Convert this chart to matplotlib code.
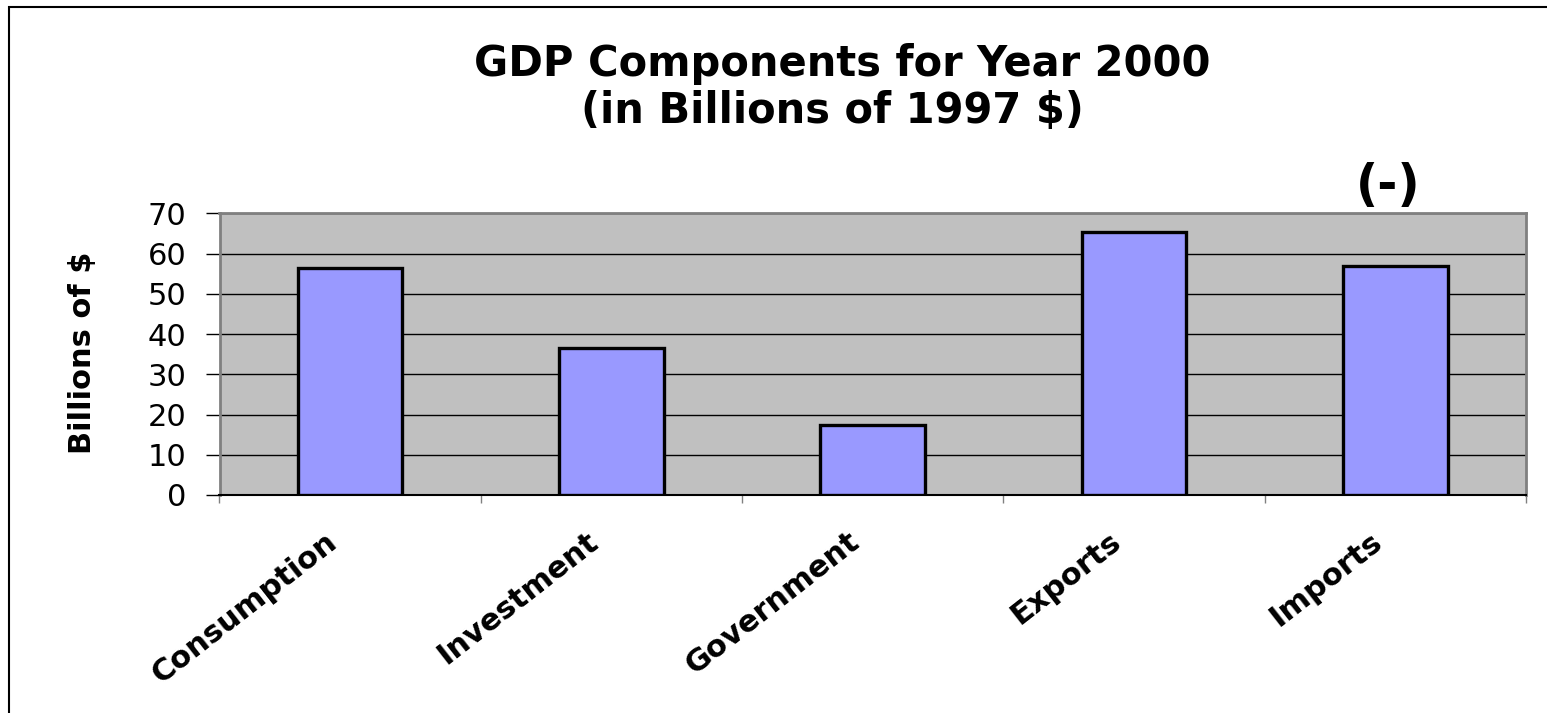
import matplotlib
matplotlib.use("Agg")
import matplotlib.pyplot as plt
from matplotlib.patches import Rectangle
from matplotlib.transforms import ScaledTranslation

# GDP components, billions of 1997 dollars
categories = ["Consumption", "Investment", "Government", "Exports", "Imports"]
values = [56.3, 36.5, 17.3, 65.4, 56.9]
y_ticks = [0, 10, 20, 30, 40, 50, 60, 70]

W, H = 1547, 713
DPI = 100
plt.rcParams["font.family"] = ["DejaVu Sans"]

fig = plt.figure(figsize=(W / DPI, H / DPI), dpi=DPI)
fig.patch.set_facecolor("white")

# plot area in pixel terms
left, right, top, bottom = 219.5, 1526, 213.3, 495
ax = fig.add_axes([left / W, 1 - bottom / H, (right - left) / W, (bottom - top) / H])

x = list(range(len(categories)))
ax.bar(x, values, width=0.4, color="#9999FF", edgecolor="black",
       linewidth=2.4, zorder=3)

ax.set_xlim(-0.5, len(categories) - 0.5)
ax.set_ylim(y_ticks[0], y_ticks[-1])
ax.set_yticks(y_ticks)
ax.set_facecolor("#C0C0C0")
ax.set_axisbelow(True)
ax.yaxis.grid(True, color="black", linewidth=1.0)

for side in ("top", "right", "left"):
    ax.spines[side].set_color("#808080")
    ax.spines[side].set_linewidth(2)
ax.spines["bottom"].set_color("black")
ax.spines["bottom"].set_linewidth(1.5)

ax.tick_params(axis="y", direction="out", length=10, width=1, color="black",
               labelsize=22, pad=14)

# category separators as x ticks
ax.set_xticks([i - 0.5 for i in range(len(categories) + 1)])
ax.set_xticklabels([])
ax.tick_params(axis="x", direction="out", length=6, width=1, color="#808080")

# rotated category names
offset = ScaledTranslation(-26 / DPI, -32 / DPI, fig.dpi_scale_trans)
for i, name in zip(x, categories):
    ax.text(i, 0, name, transform=ax.get_xaxis_transform() + offset,
            ha="right", va="top", rotation=38, rotation_mode="anchor",
            fontsize=22, fontweight="bold")

fig.text(82 / W, 1 - 353 / H, "Billions of $", rotation=90, ha="center",
         va="center", fontsize=22, fontweight="bold")

fig.text(842 / W, 1 - 76 / H, "GDP Components for Year 2000", ha="center",
         va="baseline", fontsize=30, fontweight="bold")
fig.text(832 / W, 1 - 123 / H, "(in Billions of 1997 $)", ha="center",
         va="baseline", fontsize=30, fontweight="bold")

fig.text(1388 / W, 1 - 186 / H, "(-)", ha="center", va="center",
         fontsize=35, fontweight="bold")

# outer frame
fig.add_artist(Rectangle((9 / W, -0.1), 1.2, (1 - 7 / H) + 0.1,
                         transform=fig.transFigure, fill=False,
                         edgecolor="black", linewidth=1.5))

fig.savefig("out.png", dpi=DPI)
